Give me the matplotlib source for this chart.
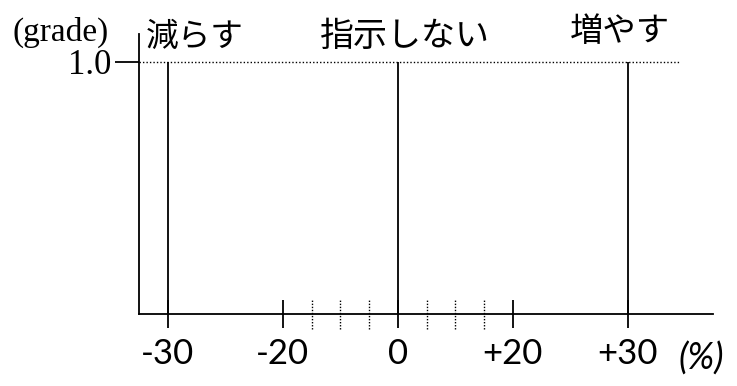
import numpy as np
import matplotlib
matplotlib.use("Agg")
import matplotlib.pyplot as plt

# singleton membership functions
labels_jp = ["減らす", "指示しない", "増やす"]
centers = [-30, 0, 30]
grades = [1.0, 1.0, 1.0]

major_ticks = [-30, -20, 0, 20, 30]
major_labels = ["-30", "-20", "0", "+20", "+30"]
minor_ticks = [-15, -10, -5, 5, 10, 15]


def fwd(x):
    x = np.asarray(x, dtype=float)
    a = np.abs(x)
    return np.where(a <= 20, x, np.sign(x) * (20 + 2 * (a - 20)))


def inv(y):
    y = np.asarray(y, dtype=float)
    a = np.abs(y)
    return np.where(a <= 20, y, np.sign(y) * (20 + (a - 20) / 2))


serif = "Liberation Serif"
sans = "Lato"
jp = ["Noto Sans CJK JP", "DejaVu Sans"]

fig = plt.figure(figsize=(7.37, 3.86), dpi=100)
ax = fig.add_axes([0.1886, 0.1865, 0.7788, 0.7255])
ax.set_xscale("function", functions=(fwd, inv))
ax.set_xlim(-32.5, 37.4)
ax.set_ylim(0, 1.111)

for s in ["top", "right"]:
    ax.spines[s].set_visible(False)
for s in ["left", "bottom"]:
    ax.spines[s].set_linewidth(1.3)

# membership lines
ax.vlines(centers, 0, grades, color="black", lw=1.3)
ax.hlines(1.0, -32.5, 34.5, color="black", lw=1.0, ls=(0, (1, 1.5)))

# dotted intermediate ticks
ax.vlines(minor_ticks, -0.06, 0.055, color="black", lw=1.0,
          ls=(0, (1, 1.2)), clip_on=False)

ax.set_xticks(major_ticks)
ax.set_xticklabels(major_labels, fontfamily=sans, fontsize=25)
ax.xaxis.set_minor_locator(matplotlib.ticker.NullLocator())
ax.tick_params(axis="x", direction="inout", length=20, width=1.3, pad=7)

ax.set_yticks([1.0])
ax.set_yticklabels(["1.0"], fontfamily=serif, fontsize=25)
ax.tick_params(axis="y", direction="out", length=17, width=1.3, pad=3)

fig.text(0.017, 0.915, "(grade)", fontfamily=serif, fontsize=24,
         ha="left", va="center")
fig.text(0.921, 0.072, "(%)", fontfamily=sans, fontsize=26,
         style="italic", ha="left", va="center")

ax.text(-31.9, 1.0 + 0.10, labels_jp[0], fontfamily=jp, fontsize=23.5,
        ha="left", va="center")
ax.text(1.2, 1.0 + 0.10, labels_jp[1], fontfamily=jp, fontsize=24.5,
        ha="center", va="center")
ax.text(29.3, 1.0 + 0.12, labels_jp[2], fontfamily=jp, fontsize=24,
        ha="center", va="center")

fig.savefig("out.png", dpi=100)
